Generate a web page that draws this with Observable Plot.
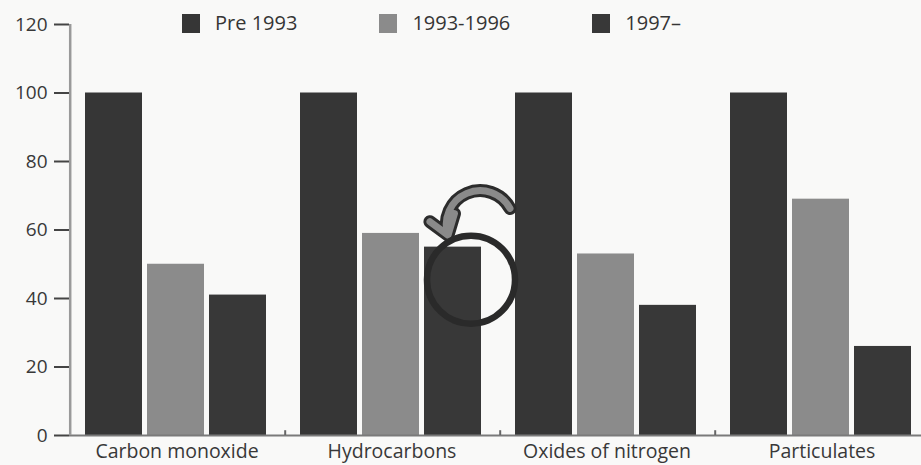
<!DOCTYPE html>
<html>
<head>
<meta charset="utf-8">
<script src="https://cdn.jsdelivr.net/npm/d3@7"></script>
<script src="https://cdn.jsdelivr.net/npm/@observablehq/plot@0.6"></script>
<style>
  html, body { margin: 0; padding: 0; background: #f9f9f8; overflow: hidden; }
  #wrap { position: relative; width: 921px; height: 465px; overflow: hidden; font-family: "Open Sans", sans-serif; color: #333; }
  #legend { position: absolute; top: 13px; left: 182px; display: flex; gap: 82px; z-index: 2; }
  .item { display: flex; align-items: center; gap: 15px; font-size: 20px; line-height: 20px; color: #353535; }
  .sw { width: 18px; height: 19px; display: inline-block; }
</style>
</head>
<body>
<div id="wrap"><div id="legend"></div><div id="chart"></div></div>
<script>
const categories = ["Carbon monoxide", "Hydrocarbons", "Oxides of nitrogen", "Particulates"];
const series = ["Pre 1993", "1993-1996", "1997–"];
const pre1993 = [100, 100, 100, 100];
const y1993to1996 = [50, 59, 53, 69];
const y1997on = [41, 55, 38, 26];
const yTicks = [0, 20, 40, 60, 80, 100, 120];
const colors = ["#363636", "#8b8b8b", "#383838"];

const seriesValues = [pre1993, y1993to1996, y1997on];
const data = categories.flatMap((c, i) =>
  series.map((s, j) => ({category: c, series: s, value: seriesValues[j][i]}))
);

// legend
const legend = document.getElementById("legend");
series.forEach((s, j) => {
  const it = document.createElement("div");
  it.className = "item";
  const sw = document.createElement("span");
  sw.className = "sw";
  sw.style.background = colors[j];
  const tx = document.createElement("span");
  tx.textContent = s;
  it.append(sw, tx);
  legend.append(it);
});

// annotation anchored on the Hydrocarbons 1997– bar
const circleNote = [{category: categories[1], series: series[2], value: 45.5}];
const arrowNote = [{category: categories[1], from: series[2], to: series[1], v1: 66.3, v2: 58.5}];
const halfBandOffset = -43.8;

const chart = Plot.plot({
  width: 921,
  height: 465,
  marginLeft: 68,
  marginRight: -9.8,
  marginTop: 24,
  marginBottom: 30,
  style: {background: "transparent", fontFamily: "'Open Sans', sans-serif", fontSize: "19px", color: "#383838", overflow: "visible"},
  fx: {domain: categories, paddingInner: 0, paddingOuter: 0, label: null},
  x: {domain: series, paddingInner: 0.08, paddingOuter: 0.261, align: 0.46, axis: null},
  y: {domain: [0, 120], label: null},
  color: {domain: series, range: colors},
  marks: [
    Plot.barY(data, {fx: "category", x: "series", y: "value", fill: "series"}),
    Plot.ruleY([0], {stroke: "#7a7a7a", strokeWidth: 2}),
    Plot.ruleX([categories[0]], {fx: d => d, x: () => series[0], dx: halfBandOffset, y1: 0, y2: 120, stroke: "#9a9a9a", strokeWidth: 2.5}),
    Plot.ruleX(categories.slice(1), {fx: d => d, x: () => series[0], dx: halfBandOffset, y1: 0, y2: 1.4, stroke: "#666", strokeWidth: 2}),
    Plot.axisY(yTicks, {tickSize: 15, tickPadding: 7, stroke: "#444", strokeWidth: 2, label: null, fontSize: 19}),
    Plot.axisFx({anchor: "bottom", tickSize: 0, tickPadding: 9, label: null, fontSize: 19.5}),
    Plot.arrow(arrowNote, {fx: "category", x1: "from", x2: "to", y1: "v1", y2: "v2", dx: 57, bend: -85, stroke: "#2c2c2c", strokeWidth: 13, headLength: 7, headAngle: 70}),
    Plot.arrow(arrowNote, {fx: "category", x1: "from", x2: "to", y1: "v1", y2: "v2", dx: 57, bend: -85, stroke: "#8a8a8a", strokeWidth: 7, headLength: 11, headAngle: 70}),
    Plot.dot(circleNote, {fx: "category", x: "series", y: "value", dx: 18, r: 44, stroke: "#2a2a2a", strokeWidth: 6.5, fill: "none"})
  ]
});
document.getElementById("chart").append(chart);
</script>
</body>
</html>
